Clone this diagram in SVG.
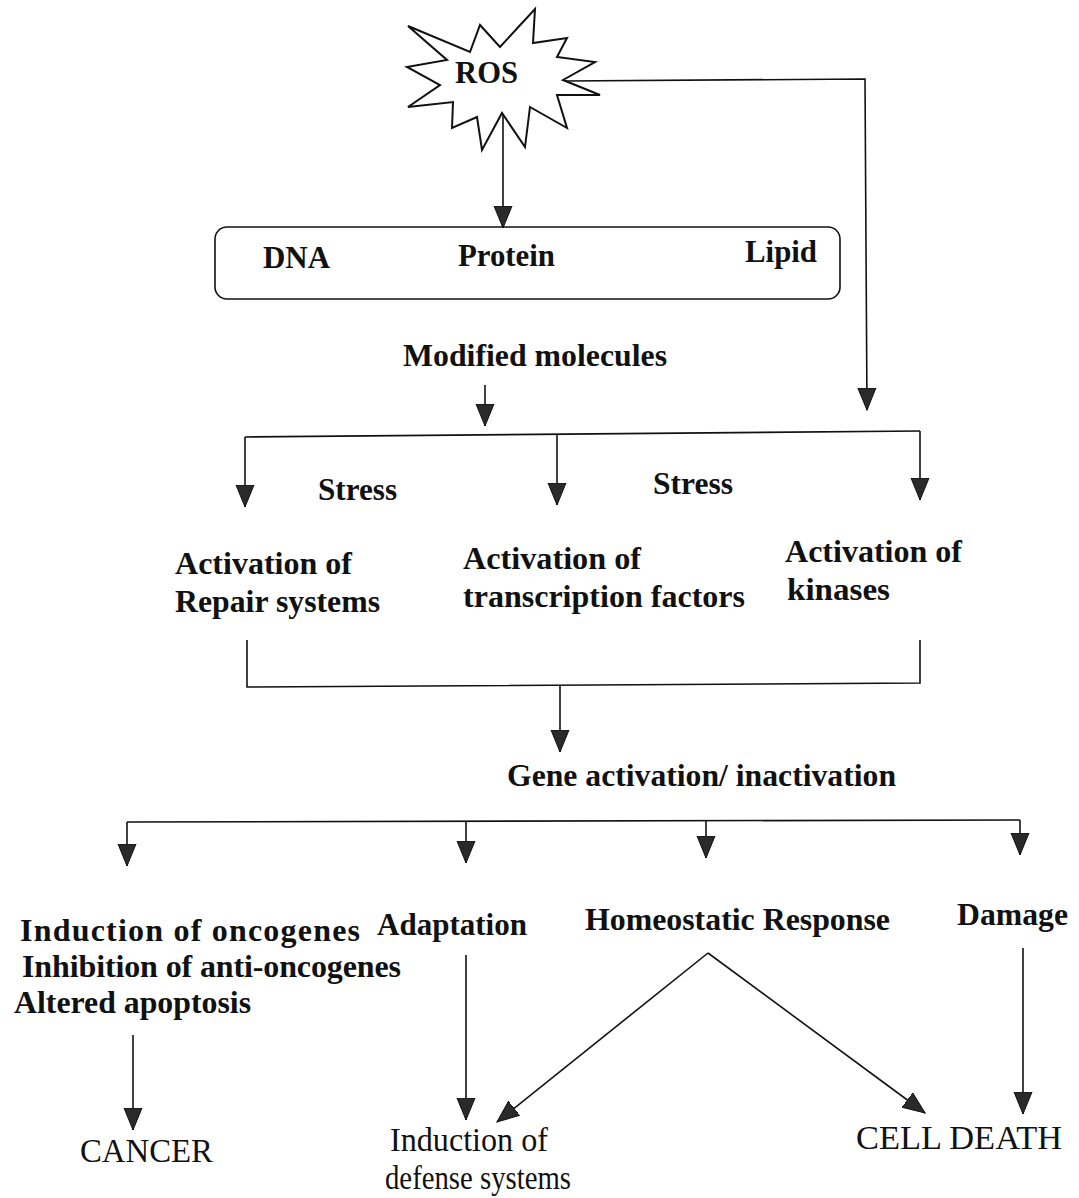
<svg xmlns="http://www.w3.org/2000/svg" width="1079" height="1198" viewBox="0 0 1079 1198">
  <style>
    .lbl { font-family: "Liberation Serif", "Times New Roman", serif; font-weight: 700; font-size: 32px; fill: #111; }
    .end { font-family: "Liberation Serif", "Times New Roman", serif; font-weight: 400; font-size: 34px; fill: #111; }
    .ln { fill: none; stroke: #111; stroke-width: 1.6; }
    .shape { fill: #fff; stroke: #111; stroke-width: 2; }
  </style>
  <defs>
    <marker id="arrow" viewBox="0 -10 24 20" markerWidth="24" markerHeight="20" refX="22" refY="0" orient="auto" markerUnits="userSpaceOnUse">
      <path d="M0,-9 L22,0 L0,9 Z" fill="#2a2a2a" stroke="#111" stroke-width="1"/>
    </marker>
  </defs>
  <rect width="1079" height="1198" fill="#fff"/>

  <!-- connectors -->
  <g id="connectors">
    <line class="ln" x1="503" y1="113" x2="503" y2="228" marker-end="url(#arrow)"/>
    <polyline class="ln" points="565,81 865,79 867,410" marker-end="url(#arrow)"/>
    <line class="ln" x1="485" y1="385" x2="485" y2="426" marker-end="url(#arrow)"/>
    <line class="ln" x1="245" y1="437" x2="920" y2="431"/>
    <line class="ln" x1="245" y1="437" x2="245" y2="507" marker-end="url(#arrow)"/>
    <line class="ln" x1="557" y1="434" x2="557" y2="505" marker-end="url(#arrow)"/>
    <line class="ln" x1="920" y1="431" x2="920" y2="500" marker-end="url(#arrow)"/>
    <polyline class="ln" points="247,640 247,687 920,683 920,640"/>
    <line class="ln" x1="560" y1="686" x2="560" y2="752" marker-end="url(#arrow)"/>
    <line class="ln" x1="127" y1="822" x2="1020" y2="820"/>
    <line class="ln" x1="127" y1="822" x2="127" y2="866" marker-end="url(#arrow)"/>
    <line class="ln" x1="466" y1="821" x2="466" y2="863" marker-end="url(#arrow)"/>
    <line class="ln" x1="706" y1="821" x2="706" y2="858" marker-end="url(#arrow)"/>
    <line class="ln" x1="1020" y1="820" x2="1020" y2="855" marker-end="url(#arrow)"/>
    <line class="ln" x1="133" y1="1035" x2="133" y2="1130" marker-end="url(#arrow)"/>
    <line class="ln" x1="466" y1="955" x2="466" y2="1120" marker-end="url(#arrow)"/>
    <line class="ln" x1="708" y1="953" x2="497" y2="1122" marker-end="url(#arrow)"/>
    <line class="ln" x1="708" y1="953" x2="925" y2="1113" marker-end="url(#arrow)"/>
    <line class="ln" x1="1023" y1="948" x2="1023" y2="1114" marker-end="url(#arrow)"/>
  </g>

  <!-- ROS burst -->
  <g id="ros">
    <polygon class="shape" points="408,26 470,52 480,25 500,47 535,9 533,43 567,38 557,57 595,62 563,80 600,95 557,95 567,128 530,107 525,147 502,113 482,150 477,117 452,128 453,102 408,107 440,85 407,67 447,60"/>
    <text class="lbl" x="455" y="83" textLength="63" lengthAdjust="spacingAndGlyphs">ROS</text>
  </g>

  <!-- modified molecules box -->
  <g id="molecules">
    <rect x="215" y="227" width="625" height="72" rx="12" ry="12" fill="none" stroke="#111" stroke-width="1.6"/>
    <text class="lbl" x="263" y="268" textLength="67" lengthAdjust="spacingAndGlyphs">DNA</text>
    <text class="lbl" x="458" y="266" textLength="97" lengthAdjust="spacingAndGlyphs">Protein</text>
    <text class="lbl" x="745" y="262" textLength="72" lengthAdjust="spacingAndGlyphs">Lipid</text>
  </g>
  <g id="modified">
    <text class="lbl" x="403" y="366" textLength="264" lengthAdjust="spacingAndGlyphs">Modified molecules</text>
  </g>

  <g id="stress-1"><text class="lbl" x="318" y="500" textLength="79" lengthAdjust="spacingAndGlyphs">Stress</text></g>
  <g id="stress-2"><text class="lbl" x="653" y="494" textLength="80" lengthAdjust="spacingAndGlyphs">Stress</text></g>

  <g id="repair">
    <text class="lbl" x="175" y="574" textLength="177" lengthAdjust="spacingAndGlyphs">Activation of</text>
    <text class="lbl" x="175" y="612" textLength="205" lengthAdjust="spacingAndGlyphs">Repair systems</text>
  </g>
  <g id="transcription">
    <text class="lbl" x="463" y="569" textLength="178" lengthAdjust="spacingAndGlyphs">Activation of</text>
    <text class="lbl" x="463" y="607" textLength="282" lengthAdjust="spacingAndGlyphs">transcription factors</text>
  </g>
  <g id="kinases">
    <text class="lbl" x="785" y="562" textLength="177" lengthAdjust="spacingAndGlyphs">Activation of</text>
    <text class="lbl" x="787" y="600" textLength="103" lengthAdjust="spacingAndGlyphs">kinases</text>
  </g>

  <g id="gene">
    <text class="lbl" x="507" y="786" textLength="389" lengthAdjust="spacingAndGlyphs">Gene activation/ inactivation</text>
  </g>

  <g id="oncogenes">
    <text class="lbl" x="20" y="941" textLength="340">Induction of oncogenes</text>
    <text class="lbl" x="22" y="977" textLength="379">Inhibition of anti-oncogenes</text>
    <text class="lbl" x="14" y="1013" textLength="237" lengthAdjust="spacingAndGlyphs">Altered apoptosis</text>
  </g>
  <g id="adaptation"><text class="lbl" x="377" y="935" textLength="150" lengthAdjust="spacingAndGlyphs">Adaptation</text></g>
  <g id="homeostatic"><text class="lbl" x="585" y="930" textLength="305" lengthAdjust="spacingAndGlyphs">Homeostatic Response</text></g>
  <g id="damage"><text class="lbl" x="957" y="925" textLength="111" lengthAdjust="spacingAndGlyphs">Damage</text></g>

  <g id="cancer"><text class="end" x="80" y="1162" textLength="133" lengthAdjust="spacingAndGlyphs">CANCER</text></g>
  <g id="defense">
    <text class="end" x="390" y="1151" textLength="158" lengthAdjust="spacingAndGlyphs">Induction of</text>
    <text class="end" x="385" y="1189" font-size="32" textLength="186" lengthAdjust="spacingAndGlyphs">defense systems</text>
  </g>
  <g id="cell-death"><text class="end" x="856" y="1149" textLength="206" lengthAdjust="spacingAndGlyphs">CELL DEATH</text></g>
</svg>
